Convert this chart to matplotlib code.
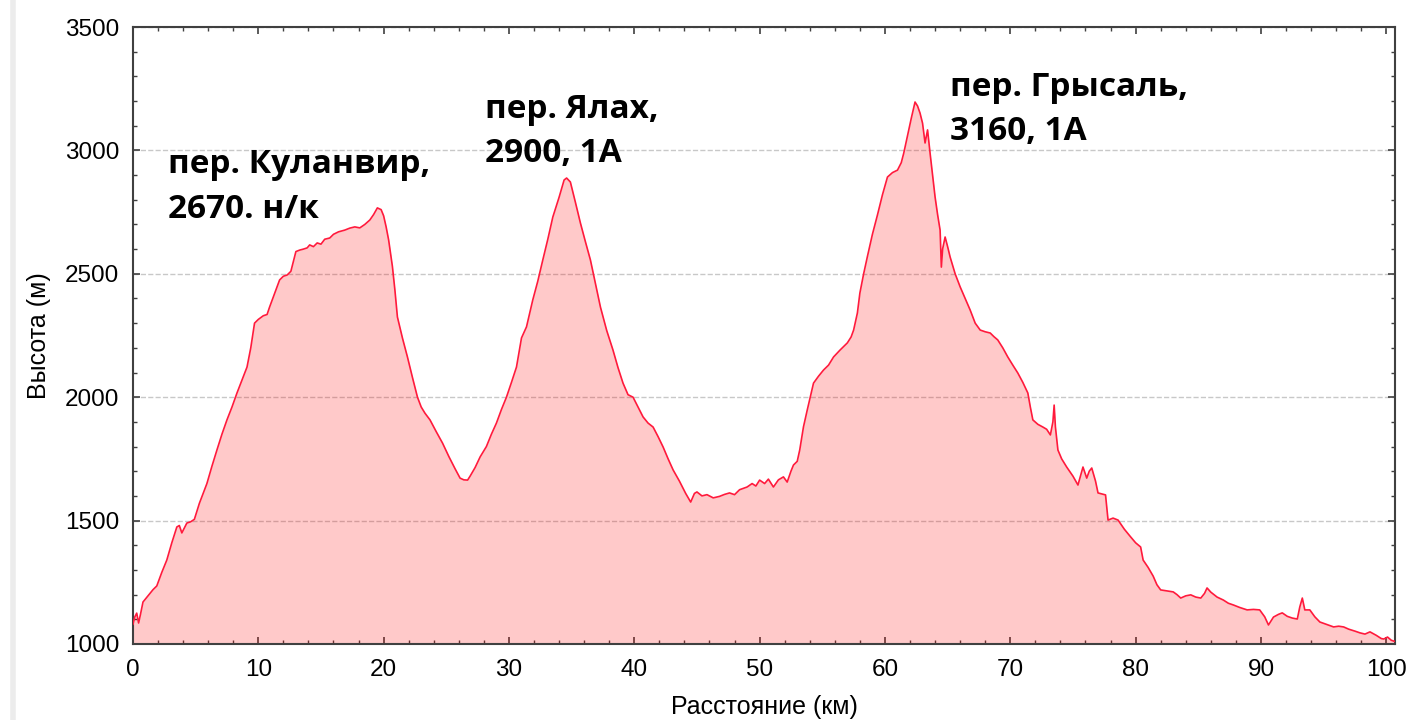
import matplotlib
matplotlib.use("Agg")
import matplotlib.pyplot as plt
from matplotlib.ticker import MultipleLocator

# elevation profile (km, m)
dist_km = [0.0, 0.15, 0.3, 0.45, 0.6, 0.8, 1.2, 1.6, 1.9, 2.3, 2.7, 3.1, 3.5, 3.7, 3.9, 4.1, 4.3, 4.6, 4.9,
           5.3, 5.9, 6.3, 6.7, 7.1, 7.5, 7.9, 8.3, 8.7, 9.1, 9.4, 9.7, 10.0, 10.4, 10.7, 10.9, 11.3, 11.7,
           12.0, 12.3, 12.6, 13.0, 13.3, 13.6, 13.9, 14.1, 14.4, 14.7, 15.0, 15.3, 15.7, 16.0, 16.4, 16.9,
           17.3, 17.7, 18.1, 18.5, 18.9, 19.2, 19.5, 19.8, 20.0, 20.2, 20.4, 20.7, 20.9, 21.1, 21.5, 21.9,
           22.3, 22.7, 23.0, 23.3, 23.7, 24.2, 24.7, 25.2, 25.7, 26.1, 26.4, 26.7, 26.9, 27.3, 27.7, 28.2,
           28.6, 29.0, 29.4, 29.8, 30.2, 30.6, 31.0, 31.4, 31.9, 32.3, 32.7, 33.1, 33.5, 34.0, 34.4, 34.6,
           34.9, 35.3, 35.7, 36.1, 36.5, 36.9, 37.3, 37.8, 38.3, 38.7, 39.1, 39.5, 39.9, 40.3, 40.7, 41.1,
           41.5, 41.9, 42.3, 42.7, 43.1, 43.6, 44.1, 44.5, 44.8, 45.0, 45.4, 45.8, 46.3, 46.8, 47.2, 47.6,
           48.0, 48.4, 49.0, 49.4, 49.7, 50.0, 50.4, 50.7, 51.1, 51.5, 51.9, 52.2, 52.5, 52.7, 53.0, 53.2,
           53.5, 53.8, 54.3, 54.7, 55.1, 55.5, 55.9, 56.4, 57.0, 57.3, 57.5, 57.8, 58.0, 58.3, 58.6, 59.0,
           59.4, 59.8, 60.2, 60.6, 61.0, 61.3, 61.5, 61.8, 62.1, 62.4, 62.6, 62.8, 63.0, 63.2, 63.4, 63.6,
           63.8, 64.0, 64.2, 64.4, 64.5, 64.6, 64.8, 65.0, 65.2, 65.6, 66.0, 66.4, 66.8, 67.2, 67.6, 68.0,
           68.4, 68.7, 69.0, 69.4, 69.8, 70.2, 70.6, 71.0, 71.4, 71.6, 71.8, 72.2, 72.6, 72.9, 73.2, 73.4,
           73.5, 73.6, 73.8, 74.1, 74.5, 75.0, 75.4, 75.6, 75.8, 76.1, 76.3, 76.5, 76.8, 77.0, 77.3, 77.6,
           77.8, 78.2, 78.6, 79.1, 79.6, 80.0, 80.4, 80.6, 81.0, 81.4, 81.7, 82.0, 82.5, 83.0, 83.3, 83.6,
           84.0, 84.4, 84.8, 85.2, 85.5, 85.7, 86.0, 86.5, 87.0, 87.4, 87.8, 88.3, 88.9, 89.4, 89.9, 90.3,
           90.6, 91.0, 91.4, 91.7, 92.1, 92.5, 92.9, 93.1, 93.3, 93.5, 93.9, 94.3, 94.7, 95.2, 95.8, 96.2,
           96.6, 97.0, 97.5, 97.9, 98.3, 98.7, 99.2, 99.6, 99.8, 100.1, 100.4, 100.7]
elev_m = [1080, 1110, 1125, 1085, 1120, 1170, 1195, 1220, 1235, 1290, 1340, 1410, 1474, 1480, 1450, 1470,
          1490, 1495, 1505, 1570, 1650, 1720, 1786, 1850, 1908, 1960, 2017, 2070, 2122, 2200, 2300, 2315,
          2330, 2335, 2365, 2420, 2475, 2490, 2495, 2510, 2590, 2596, 2600, 2605, 2617, 2610, 2625, 2620,
          2640, 2645, 2660, 2670, 2677, 2685, 2690, 2686, 2700, 2718, 2740, 2767, 2760, 2735, 2690, 2637,
          2530, 2434, 2325, 2240, 2163, 2080, 2000, 1960, 1935, 1908, 1860, 1814, 1760, 1710, 1672, 1665,
          1664, 1680, 1715, 1758, 1800, 1850, 1895, 1950, 2000, 2060, 2122, 2240, 2285, 2394, 2470, 2556,
          2640, 2730, 2810, 2880, 2888, 2872, 2790, 2706, 2630, 2556, 2460, 2365, 2270, 2191, 2120, 2057,
          2010, 2000, 1960, 1920, 1895, 1879, 1840, 1798, 1750, 1705, 1660, 1610, 1575, 1610, 1616, 1600,
          1605, 1592, 1598, 1606, 1612, 1605, 1625, 1636, 1650, 1640, 1664, 1650, 1668, 1636, 1665, 1677,
          1656, 1700, 1725, 1740, 1786, 1880, 1948, 2057, 2085, 2110, 2130, 2163, 2190, 2220, 2244, 2272,
          2341, 2422, 2500, 2570, 2660, 2738, 2820, 2892, 2910, 2920, 2950, 2989, 3060, 3130, 3196, 3180,
          3151, 3110, 3030, 3083, 2989, 2900, 2811, 2740, 2677, 2527, 2600, 2649, 2610, 2568, 2500, 2447,
          2400, 2353, 2300, 2272, 2265, 2260, 2245, 2232, 2200, 2163, 2130, 2098, 2060, 2017, 1960, 1908,
          1890, 1879, 1870, 1847, 1900, 1968, 1880, 1786, 1750, 1717, 1680, 1644, 1680, 1717, 1672, 1700,
          1713, 1660, 1612, 1608, 1604, 1502, 1510, 1502, 1465, 1434, 1410, 1393, 1340, 1310, 1275, 1240,
          1219, 1215, 1211, 1200, 1186, 1195, 1199, 1190, 1186, 1205, 1227, 1210, 1190, 1178, 1165, 1158,
          1148, 1138, 1140, 1138, 1110, 1077, 1109, 1120, 1126, 1112, 1105, 1101, 1150, 1186, 1138, 1138,
          1110, 1089, 1080, 1069, 1072, 1069, 1060, 1052, 1045, 1040, 1049, 1035, 1022, 1020, 1028, 1015,
          1010]

# pass labels
pass_names = ["пер. Куланвир,\n2670. н/к", "пер. Ялах,\n2900, 1А", "пер. Грысаль,\n3160, 1А"]
pass_x = [2.8, 28.1, 65.2]
pass_y = [3008, 3232, 3322]

plt.rcParams['font.family'] = ['Liberation Sans', 'DejaVu Sans']

fig = plt.figure(figsize=(14.1, 7.2), dpi=100)
ax = fig.add_axes([0.0943, 0.1056, 0.8951, 0.8569])

ax.fill_between(dist_km, elev_m, 1000, color='#ff0000', alpha=0.21, linewidth=0, zorder=2)
ax.plot(dist_km, elev_m, color='#ff1a3c', linewidth=1.2, zorder=3)

ax.set_xlim(0, 100.7)
ax.set_ylim(1000, 3500)
ax.xaxis.set_major_locator(MultipleLocator(10))
ax.xaxis.set_minor_locator(MultipleLocator(2))
ax.yaxis.set_major_locator(MultipleLocator(500))
ax.yaxis.set_minor_locator(MultipleLocator(100))
ax.tick_params(which='both', direction='in', top=True, right=True, colors='#404040',
               labelcolor='black', labelsize=17.5, pad=10)
ax.tick_params(which='major', length=5, width=1.2)
ax.tick_params(which='minor', length=3, width=1)
ax.tick_params(axis='x', pad=11)
for s in ax.spines.values():
    s.set_color('#404040')
    s.set_linewidth(1.5)

ax.grid(axis='y', which='major', color='#c8c8c8', linestyle='--', linewidth=1, zorder=1)
ax.set_axisbelow(True)

ax.set_xlabel("Расстояние (км)", fontsize=18, labelpad=10)
ax.set_ylabel("Высота (м)", fontsize=18, labelpad=10)

for name, x, y in zip(pass_names, pass_x, pass_y):
    ax.text(x, y, name, fontsize=24, fontweight='bold', family=['Open Sans', 'DejaVu Sans'],
            va='top', ha='left', linespacing=1.45, zorder=5)

# faint frame on the left edge like the screenshot
fig.add_artist(plt.Line2D([0.009, 0.009], [0, 1], transform=fig.transFigure, color='#ececec', linewidth=4))

fig.savefig("out.png", dpi=100)
